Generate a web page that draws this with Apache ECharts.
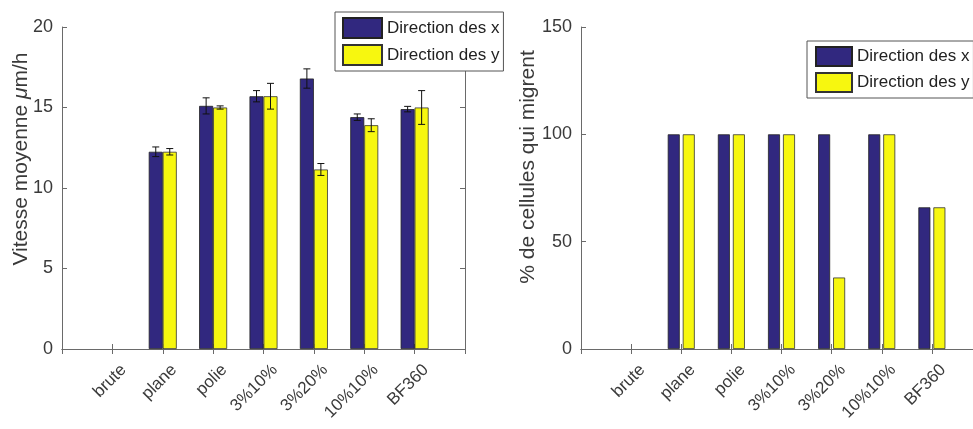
<!DOCTYPE html>
<html>
<head>
<meta charset="utf-8">
<script src="https://cdn.jsdelivr.net/npm/echarts@6/dist/echarts.min.js"></script>
<style>
  html, body { margin: 0; padding: 0; background: #fff; }
  #chart { width: 973px; height: 429px; }
</style>
</head>
<body>
<div id="chart"></div>
<script>
// categories (positions 1..7 on an axis that runs 0..8)
const categories = ['brute', 'plane', 'polie', '3%10%', '3%20%', '10%10%', 'BF360']
// vitesse moyenne (um/h) with error bars
const speedX = [null, 12.25, 15.1, 15.7, 16.8, 14.4, 14.9]
const speedY = [null, 12.25, 15.0, 15.7, 11.15, 13.9, 15.0]
const errX = [null, 0.3, 0.5, 0.35, 0.6, 0.2, 0.17]
const errY = [null, 0.2, 0.1, 0.8, 0.37, 0.4, 1.05]
// % de cellules qui migrent
const migX = [null, 100, 100, 100, 100, 100, 66]
const migY = [null, 100, 100, 100, 33.3, 100, 66]
const speedTicks = { min: 0, max: 20, interval: 5 }
const migTicks = { min: 0, max: 150, interval: 50 }

const names = ['Direction des x', 'Direction des y']
const blue = '#31287f'
const yellow = '#f7f70f'
const font = 'Liberation Sans, Arial, sans-serif'
const axisData = [''].concat(categories).concat([''])

function pairs (vals) {
  return vals.map((v, i) => (v == null ? null : [i + 1, v])).filter(d => d)
}
function errPairs (vals, errs) {
  return vals.map((v, i) => (v == null ? null : [i + 1, v, errs[i]])).filter(d => d)
}

function xAxes (grid, bottom) {
  return {
    type: 'category',
    gridIndex: grid,
    position: bottom ? 'bottom' : 'top',
    data: axisData,
    boundaryGap: false,
    axisLine: { show: true, lineStyle: { color: '#6a6a6a', width: 1 } },
    axisTick: { show: true, inside: true, length: 5, lineStyle: { color: '#6a6a6a' } },
    axisLabel: {
      show: bottom,
      rotate: 45,
      margin: 7,
      verticalAlign: 'top',
      lineHeight: 32,
      interval: 0,
      color: '#3a3a3a',
      fontSize: 17,
      fontFamily: font
    },
    splitLine: { show: false }
  }
}
function yAxes (grid, left, ticks) {
  return {
    type: 'value',
    gridIndex: grid,
    position: left ? 'left' : 'right',
    min: ticks.min,
    max: ticks.max,
    interval: ticks.interval,
    axisLine: { show: true, lineStyle: { color: '#6a6a6a', width: 1 } },
    axisTick: { show: true, inside: true, length: 5, lineStyle: { color: '#6a6a6a' } },
    axisLabel: { show: left, margin: 9, color: '#3a3a3a', fontSize: 18, fontFamily: font },
    splitLine: { show: false }
  }
}

function errorBar (offset) {
  return function (params, api) {
    const x = api.value(0)
    const v = api.value(1)
    const e = api.value(2)
    const cx = api.coord([x, v])[0] + offset
    const top = api.coord([x, v + e])[1]
    const bot = api.coord([x, v - e])[1]
    const cap = 3.5
    const style = { stroke: '#111', lineWidth: 1 }
    return {
      type: 'group',
      children: [
        { type: 'line', shape: { x1: cx, y1: top, x2: cx, y2: bot }, style: style },
        { type: 'line', shape: { x1: cx - cap, y1: top, x2: cx + cap, y2: top }, style: style },
        { type: 'line', shape: { x1: cx - cap, y1: bot, x2: cx + cap, y2: bot }, style: style }
      ]
    }
  }
}

const chart = echarts.init(document.getElementById('chart'))
chart.setOption({
  animation: false,
  textStyle: { fontFamily: font },
  grid: [
    { left: 62, top: 27, width: 403, height: 322, containLabel: false, outerBoundsMode: 'none' },
    { left: 581, top: 27, width: 401, height: 322, containLabel: false, outerBoundsMode: 'none' }
  ],
  legend: [{
    data: names,
    orient: 'vertical',
    left: 335,
    top: 12,
    padding: [5, 4, 5, 7],
    itemGap: 5,
    itemWidth: 39,
    itemHeight: 20,
    icon: 'rect',
    backgroundColor: '#fff',
    borderColor: '#555',
    borderWidth: 1,
    borderRadius: 0,
    textStyle: { fontSize: 17, color: '#222', fontFamily: font }
  }, {
    data: names,
    orient: 'vertical',
    left: 807,
    top: 41,
    padding: [5, 4, 5, 8],
    itemGap: 5,
    itemWidth: 36,
    itemHeight: 19,
    icon: 'rect',
    backgroundColor: '#fff',
    borderColor: '#555',
    borderWidth: 1,
    borderRadius: 0,
    textStyle: { fontSize: 17, color: '#222', fontFamily: font }
  }],
  xAxis: [xAxes(0, true), xAxes(0, false), xAxes(1, true), xAxes(1, false)],
  yAxis: [yAxes(0, true, speedTicks), yAxes(0, false, speedTicks), yAxes(1, true, migTicks), yAxes(1, false, migTicks)],
  graphic: [{
    type: 'text',
    x: 21,
    y: 159,
    rotation: Math.PI / 2,
    style: {
      text: 'Vitesse moyenne {i|μ}m/h',
      rich: { i: { fontStyle: 'italic', fontSize: 21, fontFamily: font, fill: '#3a3a3a' } },
      fontSize: 21,
      fontFamily: font,
      fill: '#3a3a3a',
      align: 'center',
      verticalAlign: 'middle'
    }
  }, {
    type: 'text',
    x: 528,
    y: 167,
    rotation: Math.PI / 2,
    style: {
      text: '% de cellules qui migrent',
      fontSize: 21,
      fontFamily: font,
      fill: '#3a3a3a',
      align: 'center',
      verticalAlign: 'middle'
    }
  }],
  series: [{
    name: names[0],
    type: 'bar',
    xAxisIndex: 0,
    yAxisIndex: 0,
    barWidth: 14,
    barGap: '0%',
    itemStyle: { color: blue, borderColor: '#222', borderWidth: 0.8 },
    data: pairs(speedX)
  }, {
    name: names[1],
    type: 'bar',
    xAxisIndex: 0,
    yAxisIndex: 0,
    barWidth: 14,
    barGap: '0%',
    itemStyle: { color: yellow, borderColor: '#333', borderWidth: 0.8 },
    data: pairs(speedY)
  }, {
    type: 'custom',
    xAxisIndex: 0,
    yAxisIndex: 0,
    z: 5,
    renderItem: errorBar(-7),
    data: errPairs(speedX, errX)
  }, {
    type: 'custom',
    xAxisIndex: 0,
    yAxisIndex: 0,
    z: 5,
    renderItem: errorBar(7),
    data: errPairs(speedY, errY)
  }, {
    name: names[0],
    type: 'bar',
    xAxisIndex: 2,
    yAxisIndex: 2,
    barWidth: 12,
    barGap: '25%',
    itemStyle: { color: blue, borderColor: '#222', borderWidth: 0.8 },
    data: pairs(migX)
  }, {
    name: names[1],
    type: 'bar',
    xAxisIndex: 2,
    yAxisIndex: 2,
    barWidth: 12,
    barGap: '25%',
    itemStyle: { color: yellow, borderColor: '#333', borderWidth: 0.8 },
    data: pairs(migY)
  }]
})
</script>
</body>
</html>
